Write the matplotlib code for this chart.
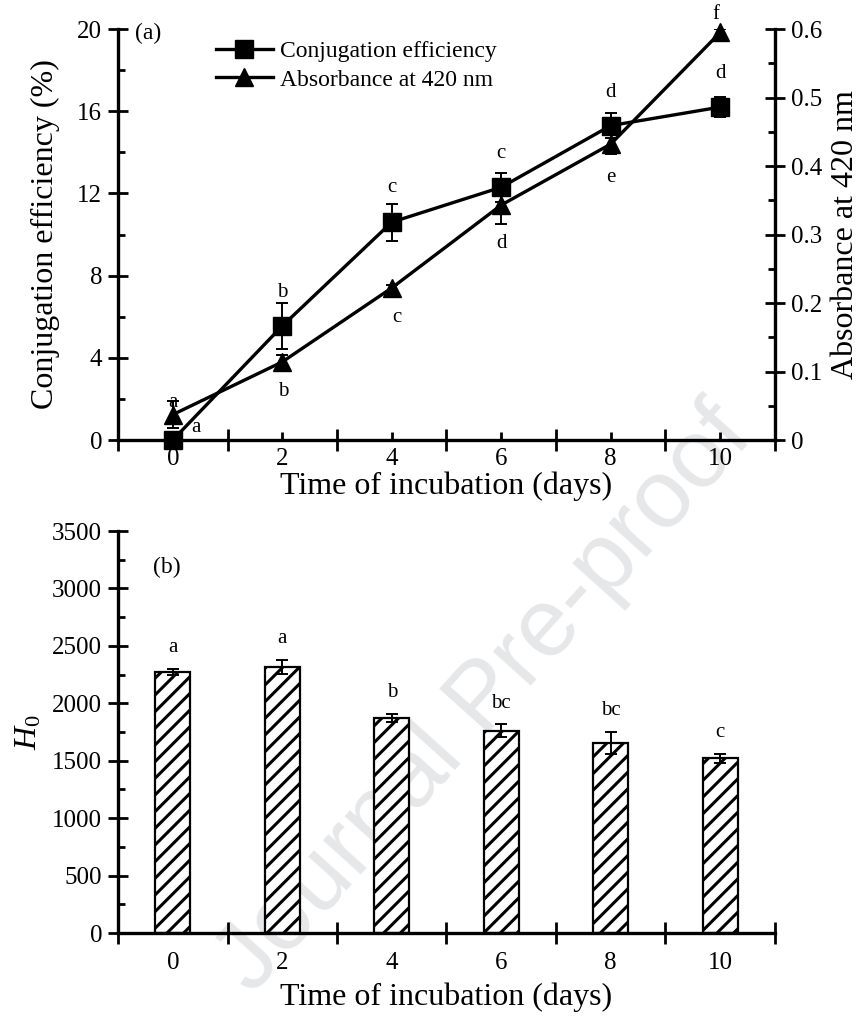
import numpy as np
import matplotlib
matplotlib.use("Agg")
import matplotlib.pyplot as plt
from matplotlib.lines import Line2D

plt.rcParams["font.family"] = ["Liberation Serif", "DejaVu Serif"]
plt.rcParams["mathtext.fontset"] = "custom"
plt.rcParams["mathtext.it"] = "Liberation Serif:italic"
plt.rcParams["mathtext.rm"] = "Liberation Serif"
plt.rcParams["hatch.linewidth"] = 2.2

# Daten
days = [0, 2, 4, 6, 8, 10]
conj_eff = [0.0, 5.55, 10.6, 12.3, 15.3, 16.2]
conj_err = [0.15, 1.1, 0.9, 0.7, 0.6, 0.5]
conj_letters = ["a", "b", "c", "c", "d", "d"]
absorb = [0.037, 0.114, 0.222, 0.343, 0.432, 0.595]
absorb_err = [0.02, 0.01, 0.005, 0.027, 0.015, 0.005]
absorb_letters = ["a", "b", "c", "d", "e", "f"]
h0 = [2272, 2318, 1872, 1763, 1655, 1522]
h0_err = [28, 62, 38, 55, 98, 40]
h0_letters = ["a", "a", "b", "bc", "bc", "c"]

# Versatz der Buchstaben (Punkte) relativ zum Datenpunkt
conj_offsets = [(17, 9), (0, 24), (0, 25), (0, 24), (0, 24), (0, 24)]
absorb_offsets = [(0, 9), (1, -21), (4, -21), (0, -28), (0, -24), (-3, 13)]

W, H = 861, 1021
fig = plt.figure(figsize=(W / 100, H / 100), dpi=100)

fig.text(485 / W, 1 - 700 / H, "Journal Pre-proof", rotation=48, fontsize=70,
         color="#e6e7e9", ha="center", va="center", family="Liberation Sans", zorder=-1)

ax1 = fig.add_axes([118 / W, 1 - 440 / H, 657 / W, 411 / H])
ax2 = ax1.twinx()
ax3 = fig.add_axes([118 / W, 1 - 933 / H, 657 / W, 402 / H])
for ax in (ax1, ax2, ax3):
    ax.patch.set_alpha(0)

lw = 2.4
tick_fs = 18
label_fs = 23


def style_x(ax, pad, labelpad):
    ax.set_xlim(-1, 11)
    ax.set_xticks(days)
    ax.set_xticks([-1, 1, 3, 5, 7, 9, 11], minor=True)
    ax.tick_params(axis="x", which="major", direction="in", length=6, width=2, labelsize=tick_fs, pad=pad)
    ax.tick_params(axis="x", which="minor", direction="inout", length=16, width=2)
    ax.set_xlabel("Time of incubation (days)", fontsize=label_fs, labelpad=labelpad)


def style_y(ax):
    ax.tick_params(axis="y", which="major", direction="inout", length=15, width=2, labelsize=tick_fs, pad=4)
    ax.tick_params(axis="y", which="minor", direction="in", length=5, width=2)


# Panel (a)
style_x(ax1, 6, 1)
ax1.set_ylim(0, 20)
ax1.set_yticks(np.arange(0, 21, 4))
ax1.set_yticks(np.arange(2, 20, 4), minor=True)
style_y(ax1)
ax1.set_ylabel("Conjugation efficiency (%)", fontsize=label_fs, labelpad=12)
for s in ("top", "right"):
    ax1.spines[s].set_visible(False)
for s in ("left", "bottom"):
    ax1.spines[s].set_linewidth(lw)

ax2.set_ylim(0, 0.6)
ax2.set_yticks(np.arange(0, 0.61, 0.1))
ax2.set_yticklabels(["0", "0.1", "0.2", "0.3", "0.4", "0.5", "0.6"])
ax2.set_yticks(np.arange(0.05, 0.6, 0.1), minor=True)
style_y(ax2)
ax2.set_ylabel("Absorbance at 420 nm", fontsize=label_fs, labelpad=6)
for s in ("top", "left", "bottom"):
    ax2.spines[s].set_visible(False)
ax2.spines["right"].set_linewidth(lw)

ebkw = dict(fmt="none", ecolor="k", elinewidth=1.4, capsize=4.5, capthick=1.4)
ax1.errorbar(days, conj_eff, yerr=conj_err, **ebkw)
ax1.plot(days, conj_eff, "k-", marker="s", lw=lw, ms=13, clip_on=False, zorder=3)
ax2.errorbar(days, absorb, yerr=absorb_err, **ebkw)
ax2.plot(days, absorb, "k-", marker="^", lw=lw, ms=13, clip_on=False, zorder=3)

for x, y, t, off in zip(days, conj_eff, conj_letters, conj_offsets):
    ax1.annotate(t, (x, y), xytext=off, textcoords="offset points", ha="center", va="center", fontsize=15)
for x, y, t, off in zip(days, absorb, absorb_letters, absorb_offsets):
    ax2.annotate(t, (x, y), xytext=off, textcoords="offset points", ha="center", va="center", fontsize=15)

handles = [Line2D([], [], color="k", lw=lw, marker="s", ms=13),
           Line2D([], [], color="k", lw=lw, marker="^", ms=13)]
ax2.legend(handles, ["Conjugation efficiency", "Absorbance at 420 nm"], loc="upper left",
           bbox_to_anchor=(0.135, 0.995), frameon=False, fontsize=17, handlelength=2.4,
           handletextpad=0.3, labelspacing=0.3, borderaxespad=0)
ax1.text((148 - 118) / 657, (440 - 33) / 411, "(a)", transform=ax1.transAxes,
         fontsize=17, ha="center", va="center")

# Panel (b)
style_x(ax3, 14, 6)
ax3.set_ylim(0, 3500)
ax3.set_yticks(np.arange(0, 3501, 500))
ax3.set_yticks(np.arange(250, 3500, 500), minor=True)
style_y(ax3)
ax3.set_ylabel(r"$\mathit{H}_\mathit{0}$", fontsize=label_fs, labelpad=6)
for s in ("top", "right"):
    ax3.spines[s].set_visible(False)
for s in ("left", "bottom"):
    ax3.spines[s].set_linewidth(lw)

ax3.bar(days, h0, width=0.64, facecolor="white", edgecolor="k", linewidth=1.6, hatch="//", zorder=2)
ax3.errorbar(days, h0, yerr=h0_err, zorder=3, **ebkw)
for x, y, e, t in zip(days, h0, h0_err, h0_letters):
    ax3.annotate(t, (x, y + e), xytext=(0, 15), textcoords="offset points", ha="center", va="center", fontsize=15)
ax3.text((167 - 118) / 657, (933 - 567) / 402, "(b)", transform=ax3.transAxes, fontsize=17, va="center", ha="center")

fig.savefig("out.png", dpi=100)
